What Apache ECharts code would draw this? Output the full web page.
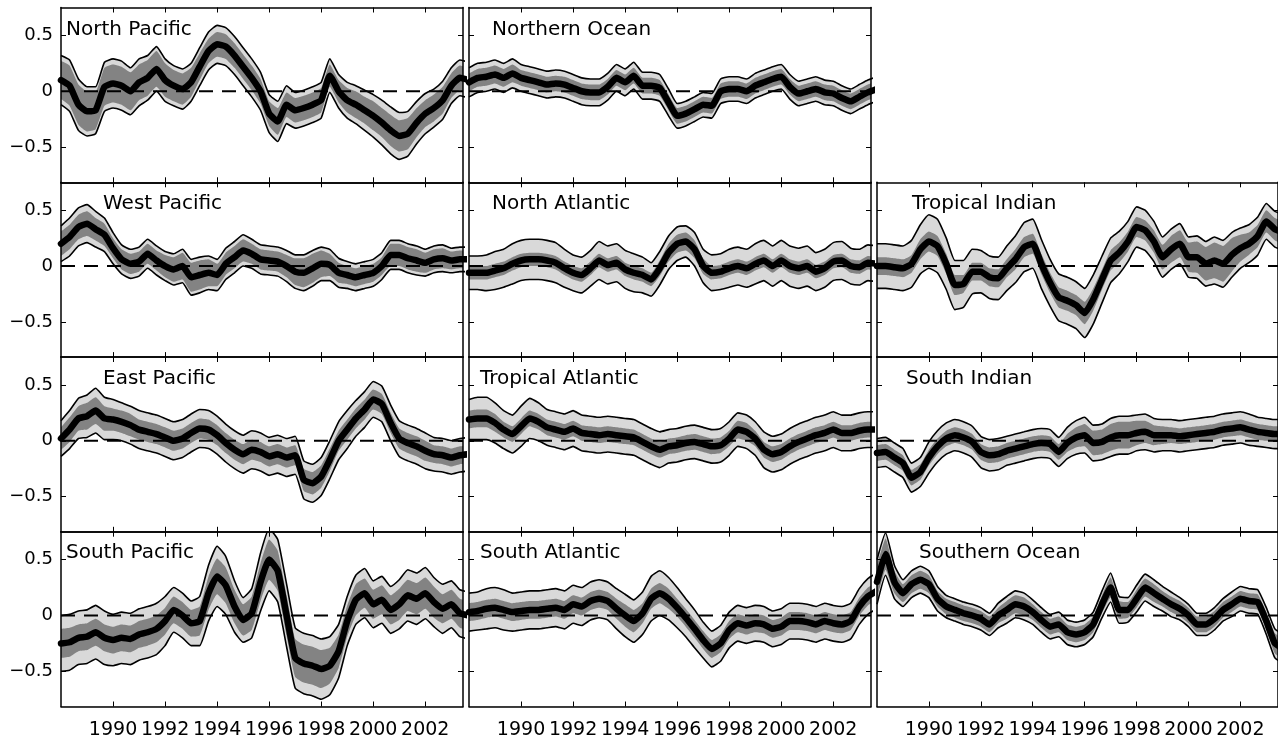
<!DOCTYPE html>
<html><head><meta charset="utf-8">
<script src="https://cdn.jsdelivr.net/npm/echarts@6/dist/echarts.min.js"></script>
<style>html,body{margin:0;padding:0;background:#fff}#c{width:1278px;height:739px}</style>
</head><body><div id="c"></div>
<script>
// ---------- DATA ----------
const years = [1988.00,1988.33,1988.67,1989.00,1989.33,1989.67,1990.00,1990.33,1990.67,1991.00,1991.33,1991.67,1992.00,1992.33,1992.67,1993.00,1993.33,1993.67,1994.00,1994.33,1994.67,1995.00,1995.33,1995.67,1996.00,1996.33,1996.67,1997.00,1997.33,1997.67,1998.00,1998.33,1998.67,1999.00,1999.33,1999.67,2000.00,2000.33,2000.67,2001.00,2001.33,2001.67,2002.00,2002.33,2002.67,2003.00,2003.33,2003.67];
const tickYears = [1990,1992,1994,1996,1998,2000,2002];
const yTicks = [-0.5,0,0.5];
const panelNames = ['North Pacific','Northern Ocean','West Pacific','North Atlantic','Tropical Indian','East Pacific','Tropical Atlantic','South Indian','South Pacific','South Atlantic','Southern Ocean'];

// North Pacific: centre, outer half-spread, inner (dark) half-spread
const npC = [0.10,0.05,-0.12,-0.18,-0.17,0.04,0.07,0.05,0.00,0.08,0.12,0.20,0.10,0.05,0.02,0.08,0.22,0.36,0.42,0.40,0.32,0.22,0.12,0.00,-0.20,-0.27,-0.12,-0.17,-0.15,-0.12,-0.08,0.14,0.00,-0.08,-0.12,-0.17,-0.22,-0.28,-0.35,-0.40,-0.38,-0.28,-0.20,-0.15,-0.08,0.05,0.12,0.10];
const npW = [0.22,0.23,0.23,0.22,0.21,0.22,0.22,0.22,0.21,0.21,0.20,0.20,0.19,0.18,0.18,0.17,0.17,0.17,0.17,0.17,0.17,0.17,0.17,0.17,0.17,0.18,0.17,0.16,0.16,0.16,0.16,0.15,0.15,0.16,0.17,0.18,0.19,0.20,0.21,0.21,0.20,0.19,0.18,0.17,0.17,0.16,0.16,0.16];
const npD = [0.17,0.18,0.18,0.18,0.17,0.17,0.17,0.17,0.17,0.16,0.16,0.16,0.15,0.14,0.14,0.13,0.12,0.11,0.11,0.11,0.11,0.11,0.11,0.11,0.11,0.12,0.11,0.11,0.11,0.11,0.11,0.10,0.10,0.11,0.12,0.12,0.13,0.13,0.14,0.14,0.14,0.13,0.12,0.12,0.12,0.11,0.11,0.11];

// Northern Ocean
const noC = [0.08,0.12,0.13,0.15,0.12,0.16,0.12,0.10,0.08,0.06,0.07,0.06,0.03,0.00,-0.01,-0.01,0.04,0.12,0.08,0.14,0.05,0.05,0.03,-0.10,-0.22,-0.20,-0.16,-0.12,-0.13,0.00,0.02,0.02,0.00,0.05,0.08,0.11,0.13,0.04,-0.02,0.00,0.02,-0.01,-0.02,-0.06,-0.09,-0.05,-0.01,0.02];
const noW = [0.13,0.13,0.13,0.13,0.13,0.13,0.12,0.12,0.12,0.12,0.12,0.12,0.12,0.12,0.12,0.12,0.12,0.12,0.12,0.12,0.12,0.12,0.12,0.12,0.11,0.11,0.11,0.11,0.11,0.11,0.11,0.11,0.11,0.11,0.11,0.11,0.11,0.11,0.11,0.11,0.11,0.11,0.11,0.11,0.11,0.11,0.11,0.11];
const noD = [0.08,0.08,0.08,0.08,0.08,0.08,0.07,0.07,0.07,0.07,0.07,0.07,0.07,0.07,0.07,0.07,0.07,0.07,0.07,0.07,0.07,0.07,0.07,0.07,0.07,0.07,0.07,0.07,0.07,0.07,0.07,0.07,0.07,0.07,0.07,0.07,0.07,0.07,0.07,0.07,0.07,0.07,0.07,0.07,0.07,0.07,0.07,0.07];

// West Pacific
const wpC = [0.20,0.26,0.35,0.38,0.33,0.28,0.16,0.06,0.02,0.04,0.11,0.05,0.00,-0.03,0.00,-0.10,-0.08,-0.06,-0.08,0.02,0.08,0.14,0.11,0.06,0.05,0.04,0.00,-0.05,-0.06,-0.02,0.02,0.01,-0.06,-0.08,-0.10,-0.08,-0.06,0.00,0.10,0.10,0.07,0.05,0.03,0.06,0.07,0.05,0.06,0.06];
const wpW = [0.16,0.17,0.17,0.17,0.16,0.15,0.14,0.13,0.13,0.13,0.13,0.13,0.13,0.14,0.15,0.16,0.16,0.15,0.14,0.14,0.14,0.14,0.13,0.13,0.13,0.13,0.14,0.15,0.16,0.16,0.15,0.14,0.13,0.12,0.12,0.12,0.12,0.12,0.13,0.13,0.13,0.13,0.12,0.12,0.12,0.11,0.11,0.11];
const wpD = [0.11,0.11,0.11,0.11,0.10,0.10,0.09,0.09,0.09,0.09,0.09,0.09,0.10,0.11,0.12,0.13,0.13,0.12,0.10,0.10,0.10,0.10,0.09,0.09,0.09,0.09,0.10,0.12,0.13,0.13,0.12,0.10,0.09,0.08,0.08,0.08,0.08,0.08,0.10,0.10,0.10,0.10,0.09,0.09,0.09,0.08,0.08,0.08];

// North Atlantic
const naC = [-0.06,-0.06,-0.06,-0.04,-0.02,0.02,0.05,0.06,0.06,0.05,0.03,-0.02,-0.06,-0.08,-0.02,0.05,0.01,0.03,-0.03,-0.06,-0.08,-0.12,-0.02,0.12,0.20,0.22,0.15,0.00,-0.06,-0.05,-0.02,0.00,-0.02,0.02,0.05,0.00,0.05,0.00,-0.02,0.00,-0.05,-0.02,0.04,0.05,0.00,-0.01,0.03,0.02];
const naW = [0.15,0.15,0.16,0.17,0.17,0.18,0.18,0.18,0.18,0.18,0.18,0.17,0.16,0.16,0.16,0.17,0.17,0.17,0.17,0.17,0.16,0.15,0.15,0.15,0.15,0.14,0.15,0.15,0.16,0.16,0.17,0.17,0.17,0.18,0.18,0.18,0.18,0.18,0.18,0.18,0.17,0.17,0.17,0.17,0.16,0.16,0.16,0.16];
const naD = [0.06,0.06,0.06,0.06,0.06,0.06,0.06,0.06,0.06,0.06,0.06,0.06,0.06,0.06,0.06,0.06,0.06,0.06,0.06,0.06,0.06,0.06,0.07,0.08,0.08,0.08,0.08,0.07,0.06,0.06,0.06,0.06,0.06,0.06,0.06,0.06,0.06,0.06,0.06,0.06,0.06,0.06,0.06,0.06,0.06,0.06,0.06,0.06];

// Tropical Indian
const tiC = [0.00,0.00,-0.01,-0.02,0.02,0.15,0.22,0.18,0.02,-0.17,-0.16,-0.05,-0.05,-0.10,-0.11,-0.02,0.06,0.17,0.20,0.02,-0.15,-0.28,-0.31,-0.35,-0.42,-0.30,-0.12,0.05,0.12,0.22,0.35,0.32,0.22,0.08,0.15,0.20,0.08,0.08,0.02,0.05,0.02,0.10,0.16,0.20,0.27,0.40,0.33,0.30];
const tiW = [0.20,0.20,0.20,0.20,0.21,0.22,0.24,0.24,0.23,0.22,0.21,0.20,0.19,0.19,0.19,0.20,0.21,0.22,0.22,0.22,0.21,0.21,0.21,0.21,0.22,0.22,0.21,0.20,0.19,0.18,0.18,0.18,0.18,0.18,0.18,0.18,0.18,0.19,0.20,0.21,0.21,0.20,0.18,0.17,0.17,0.16,0.16,0.16];
const tiD = [0.08,0.08,0.08,0.08,0.08,0.09,0.09,0.09,0.09,0.09,0.08,0.08,0.08,0.08,0.08,0.08,0.09,0.09,0.09,0.09,0.09,0.09,0.09,0.09,0.10,0.10,0.09,0.09,0.09,0.09,0.09,0.09,0.10,0.11,0.12,0.12,0.13,0.14,0.15,0.16,0.16,0.15,0.12,0.10,0.10,0.10,0.10,0.10];

// East Pacific
const epC = [0.02,0.10,0.20,0.22,0.27,0.20,0.19,0.17,0.14,0.10,0.08,0.06,0.03,0.00,0.02,0.07,0.11,0.10,0.05,-0.02,-0.08,-0.12,-0.08,-0.10,-0.14,-0.12,-0.15,-0.13,-0.35,-0.38,-0.32,-0.17,0.00,0.10,0.20,0.28,0.37,0.33,0.16,0.02,-0.02,-0.05,-0.09,-0.12,-0.13,-0.15,-0.13,-0.12];
const epW = [0.16,0.17,0.18,0.19,0.20,0.19,0.18,0.17,0.17,0.17,0.17,0.17,0.17,0.17,0.17,0.17,0.17,0.17,0.17,0.17,0.17,0.17,0.17,0.17,0.17,0.17,0.17,0.17,0.17,0.17,0.17,0.17,0.17,0.17,0.16,0.16,0.16,0.16,0.16,0.16,0.16,0.16,0.16,0.15,0.15,0.15,0.15,0.15];
const epD = [0.10,0.11,0.11,0.12,0.12,0.11,0.10,0.10,0.10,0.09,0.09,0.09,0.09,0.09,0.09,0.09,0.09,0.09,0.09,0.09,0.09,0.09,0.09,0.09,0.09,0.09,0.09,0.09,0.10,0.10,0.10,0.10,0.09,0.09,0.09,0.09,0.09,0.09,0.09,0.09,0.09,0.09,0.09,0.08,0.08,0.08,0.08,0.08];

// Tropical Atlantic
const taC = [0.19,0.20,0.20,0.16,0.10,0.06,0.13,0.20,0.17,0.12,0.10,0.08,0.11,0.07,0.06,0.05,0.06,0.05,0.04,0.03,-0.01,-0.05,-0.08,-0.05,-0.04,-0.02,-0.01,-0.03,-0.05,-0.04,0.02,0.10,0.08,0.02,-0.08,-0.12,-0.10,-0.05,-0.01,0.02,0.05,0.07,0.10,0.07,0.07,0.09,0.10,0.10];
const taW = [0.18,0.19,0.19,0.18,0.17,0.17,0.18,0.18,0.17,0.16,0.16,0.16,0.16,0.16,0.16,0.16,0.16,0.16,0.16,0.16,0.16,0.16,0.16,0.15,0.15,0.15,0.15,0.15,0.15,0.15,0.15,0.15,0.15,0.15,0.16,0.16,0.16,0.16,0.16,0.16,0.16,0.16,0.16,0.16,0.16,0.16,0.16,0.16];
const taD = [0.08,0.08,0.08,0.08,0.07,0.07,0.07,0.07,0.07,0.07,0.07,0.07,0.07,0.07,0.07,0.07,0.07,0.07,0.07,0.07,0.07,0.07,0.07,0.07,0.07,0.07,0.07,0.07,0.07,0.07,0.07,0.08,0.08,0.07,0.07,0.07,0.07,0.07,0.07,0.07,0.07,0.07,0.07,0.07,0.07,0.07,0.07,0.07];

// South Indian
const siC = [-0.11,-0.10,-0.15,-0.20,-0.33,-0.28,-0.15,-0.05,0.02,0.05,0.03,-0.01,-0.10,-0.13,-0.12,-0.09,-0.07,-0.05,-0.03,-0.02,-0.03,-0.10,-0.02,0.03,0.05,-0.02,-0.01,0.03,0.05,0.05,0.07,0.08,0.05,0.05,0.05,0.04,0.05,0.06,0.07,0.08,0.10,0.11,0.12,0.10,0.08,0.07,0.06,0.06];
const siW = [0.13,0.13,0.13,0.13,0.13,0.13,0.14,0.14,0.14,0.14,0.14,0.14,0.14,0.14,0.14,0.13,0.13,0.13,0.13,0.13,0.13,0.13,0.14,0.15,0.16,0.16,0.16,0.17,0.17,0.17,0.16,0.16,0.15,0.14,0.14,0.14,0.14,0.14,0.14,0.14,0.14,0.14,0.14,0.14,0.13,0.13,0.13,0.13];
const siD = [0.07,0.07,0.07,0.07,0.07,0.07,0.07,0.07,0.07,0.07,0.07,0.07,0.07,0.07,0.07,0.07,0.07,0.07,0.07,0.07,0.07,0.07,0.08,0.09,0.10,0.11,0.11,0.12,0.12,0.12,0.11,0.10,0.09,0.08,0.07,0.07,0.07,0.07,0.07,0.07,0.07,0.07,0.07,0.07,0.07,0.07,0.07,0.07];

// South Pacific
const spC = [-0.25,-0.24,-0.20,-0.19,-0.15,-0.20,-0.22,-0.20,-0.21,-0.17,-0.15,-0.12,-0.05,0.05,0.00,-0.07,-0.05,0.20,0.35,0.27,0.08,-0.04,0.02,0.30,0.50,0.40,0.00,-0.38,-0.43,-0.45,-0.48,-0.45,-0.32,-0.05,0.14,0.20,0.10,0.14,0.05,0.10,0.18,0.15,0.20,0.12,0.06,0.10,0.02,0.00];
const spW = [0.25,0.25,0.24,0.24,0.24,0.24,0.23,0.23,0.23,0.23,0.23,0.23,0.22,0.20,0.20,0.20,0.22,0.25,0.27,0.26,0.23,0.20,0.22,0.26,0.28,0.28,0.28,0.27,0.27,0.27,0.27,0.26,0.24,0.22,0.22,0.22,0.21,0.21,0.21,0.22,0.23,0.23,0.23,0.22,0.22,0.21,0.21,0.21];
const spD = [0.13,0.13,0.12,0.12,0.12,0.12,0.12,0.12,0.12,0.12,0.12,0.12,0.12,0.12,0.12,0.12,0.13,0.15,0.16,0.16,0.15,0.14,0.15,0.17,0.18,0.18,0.18,0.17,0.17,0.17,0.17,0.16,0.15,0.14,0.14,0.13,0.13,0.13,0.13,0.14,0.14,0.14,0.14,0.14,0.13,0.13,0.13,0.13];

// South Atlantic
const saC = [0.03,0.04,0.06,0.07,0.05,0.03,0.04,0.05,0.05,0.06,0.07,0.05,0.10,0.08,0.13,0.15,0.13,0.06,0.00,-0.05,0.02,0.15,0.20,0.15,0.07,-0.02,-0.12,-0.22,-0.30,-0.25,-0.13,-0.07,-0.09,-0.07,-0.08,-0.12,-0.10,-0.05,-0.05,-0.06,-0.08,-0.05,-0.07,-0.08,-0.05,0.08,0.17,0.22];
const saW = [0.17,0.17,0.18,0.18,0.18,0.17,0.17,0.17,0.17,0.17,0.17,0.17,0.17,0.17,0.17,0.17,0.17,0.18,0.19,0.19,0.19,0.20,0.20,0.19,0.18,0.17,0.17,0.16,0.16,0.16,0.16,0.16,0.16,0.16,0.16,0.16,0.16,0.16,0.16,0.16,0.16,0.16,0.16,0.16,0.16,0.16,0.16,0.16];
const saD = [0.08,0.08,0.08,0.08,0.08,0.08,0.08,0.08,0.08,0.08,0.08,0.08,0.08,0.08,0.08,0.08,0.08,0.09,0.10,0.10,0.09,0.09,0.09,0.09,0.08,0.08,0.08,0.08,0.08,0.08,0.08,0.08,0.08,0.08,0.08,0.08,0.08,0.08,0.08,0.08,0.08,0.08,0.08,0.08,0.08,0.08,0.08,0.08];

// Southern Ocean
const soC = [0.30,0.55,0.30,0.20,0.28,0.32,0.28,0.15,0.08,0.05,0.02,0.00,-0.03,-0.08,0.00,0.05,0.10,0.08,0.03,-0.04,-0.10,-0.08,-0.15,-0.17,-0.15,-0.08,0.10,0.25,0.05,0.05,0.15,0.25,0.20,0.15,0.10,0.06,0.00,-0.08,-0.08,-0.03,0.05,0.10,0.15,0.13,0.12,-0.05,-0.25,-0.30];
const soW = [0.20,0.19,0.15,0.12,0.12,0.12,0.12,0.11,0.10,0.10,0.10,0.10,0.10,0.10,0.11,0.12,0.12,0.12,0.11,0.11,0.11,0.11,0.11,0.11,0.11,0.11,0.12,0.13,0.12,0.11,0.12,0.12,0.12,0.11,0.11,0.10,0.10,0.10,0.10,0.10,0.10,0.11,0.11,0.11,0.11,0.12,0.13,0.13];
const soD = [0.15,0.14,0.10,0.08,0.08,0.08,0.08,0.07,0.07,0.07,0.07,0.07,0.07,0.07,0.07,0.08,0.08,0.08,0.07,0.07,0.07,0.07,0.07,0.07,0.07,0.07,0.08,0.09,0.08,0.07,0.08,0.08,0.08,0.07,0.07,0.07,0.07,0.07,0.07,0.07,0.07,0.07,0.07,0.07,0.07,0.08,0.09,0.09];

// ---------- LAYOUT ----------
const colLeft = [61, 469, 877];
const colWidth = [402, 402, 401];
const rowTop = [7.5, 182.3, 357, 531.7];
const rowHeight = 174.8;
const panelSeries = [
  [npC,npW,npD],[noC,noW,noD],[wpC,wpW,wpD],[naC,naW,naD],[tiC,tiW,tiD],
  [epC,epW,epD],[taC,taW,taD],[siC,siW,siD],[spC,spW,spD],[saC,saW,saD],[soC,soW,soD]
];
const panelPos = [[0,0],[0,1],[1,0],[1,1],[1,2],[2,0],[2,1],[2,2],[3,0],[3,1],[3,2]];
const titlePos = [[66,30],[492,30],[103,204],[492,204],[912,204],[103,379],[480,379],[906,379],[66,553],[480,553],[919,553]];

const FONT = 'DejaVu Sans';
const LIGHT = '#d9d9d9', DARK = '#838383';
const SM = 0.15;
const XMIN = 1988, XMAX = 2003.45, YMIN = -0.815, YMAX = 0.75;

const grids = [], xAxes = [], yAxes = [], series = [], graphics = [];
function shift(c, w, s) { return years.map((x, i) => [x, Math.round((c[i] + s * w[i]) * 1000) / 1000]); }

panelSeries.forEach(([c, w, d], k) => {
  const [row, col] = panelPos[k];
  grids.push({ left: colLeft[col], top: rowTop[row], width: colWidth[col], height: rowHeight,
    show: false, containLabel: false, outerBoundsMode: 'none' });
  const axLine = { show: true, onZero: false, lineStyle: { color: '#000', width: 1.5 } };
  const xt = { show: true, inside: true, length: 5, customValues: tickYears, lineStyle: { color: '#000', width: 1 } };
  const yt = { show: true, inside: true, length: 5, customValues: yTicks, lineStyle: { color: '#000', width: 1 } };
  ['bottom', 'top'].forEach((pos, j) => {
    xAxes.push({ gridIndex: k, type: 'value', min: XMIN, max: XMAX, position: pos, z: 10,
      axisLine: axLine, axisTick: xt, splitLine: { show: false },
      axisLabel: { show: j === 0 && row === 3, customValues: tickYears, margin: 14, color: '#000',
        fontSize: 19, fontFamily: FONT, formatter: v => String(v) } });
  });
  ['left', 'right'].forEach((pos, j) => {
    yAxes.push({ gridIndex: k, type: 'value', min: YMIN, max: YMAX, position: pos, z: 10,
      axisLine: axLine, axisTick: yt, splitLine: { show: false },
      axisLabel: { show: j === 0 && col === 0, customValues: yTicks, margin: 8, color: '#000',
        fontSize: 18, fontFamily: FONT, formatter: v => (v < 0 ? '\u2212' + Math.abs(v) : String(v)) } });
  });
  const base = { type: 'line', xAxisIndex: 2 * k, yAxisIndex: 2 * k, symbol: 'none', silent: true, animation: false, clip: true };
  const area = (data, color) => Object.assign({}, base, { data, smooth: SM,
    lineStyle: { width: 0, opacity: 0 }, areaStyle: { color, opacity: 1, origin: 'start' } });
  const line = (data, width, opts) => Object.assign({}, base, { data, smooth: SM,
    lineStyle: Object.assign({ width, color: '#000' }, opts || {}) });
  series.push(area(shift(c, w, 1), LIGHT));
  series.push(area(shift(c, d, 1), DARK));
  series.push(area(shift(c, d, -1), LIGHT));
  series.push(area(shift(c, w, -1), '#ffffff'));
  series.push(line(shift(c, w, 1), 1.6));
  series.push(line(shift(c, w, -1), 1.6));
  series.push(Object.assign({}, base, { data: [[XMIN, 0], [XMAX, 0]], smooth: false,
    lineStyle: { width: 2, color: '#000', type: [14, 9] } }));
  series.push(line(shift(c, w, 0), 6.5, { cap: 'round', join: 'round' }));
  graphics.push({ type: 'text', x: titlePos[k][0], y: titlePos[k][1], z: 20,
    style: { text: panelNames[k], fontSize: 20, fontFamily: FONT, fill: '#000', verticalAlign: 'middle' } });
});

const chart = echarts.init(document.getElementById('c'), null, { renderer: 'canvas' });
chart.setOption({ animation: false, backgroundColor: '#fff', grid: grids, xAxis: xAxes, yAxis: yAxes,
  series: series, graphic: graphics });
</script></body></html>
